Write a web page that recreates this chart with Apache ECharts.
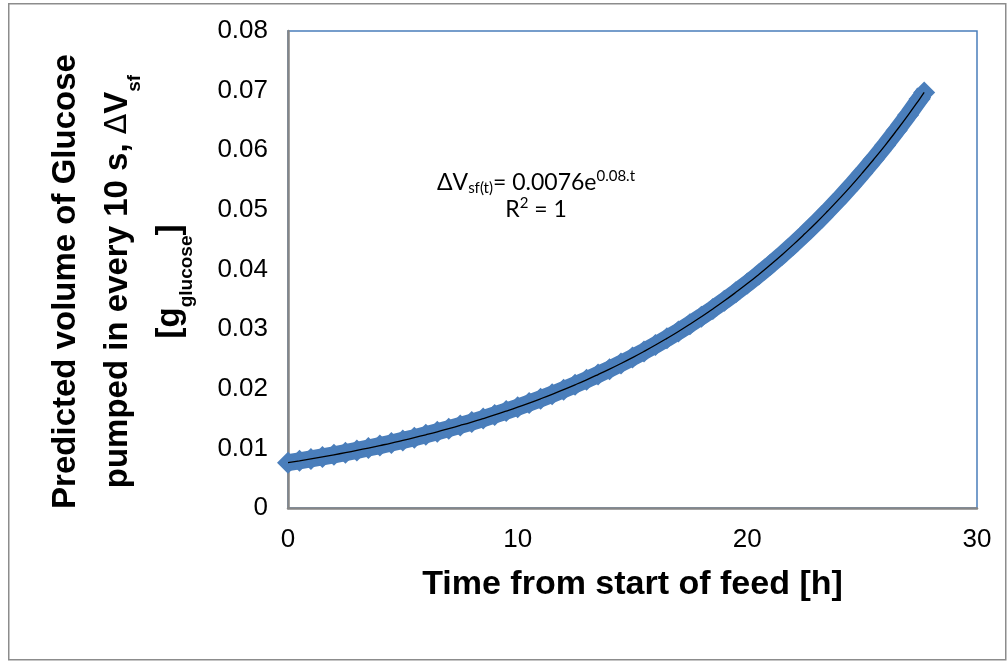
<!DOCTYPE html>
<html>
<head>
<meta charset="utf-8">
<script src="https://cdn.jsdelivr.net/npm/echarts@6/dist/echarts.min.js"></script>
<style>
  html, body { margin: 0; padding: 0; background: #fff; }
  #chart { width: 1008px; height: 662px; }
</style>
</head>
<body>
<div id="chart"></div>
<script>
// Feed time [h] and the predicted glucose volume per 10 s pump cycle [g]
const timeHours = [
  0, 0.5, 1, 1.5, 2, 2.5, 3, 3.5, 4, 4.5, 5, 5.5, 6, 6.5, 7, 7.5, 8, 8.5, 9, 9.5,
  10, 10.5, 11, 11.5, 12, 12.5, 13, 13.5, 14, 14.5, 15, 15.5, 16, 16.5, 17, 17.5,
  18, 18.5, 19, 19.5, 20, 20.5, 21, 21.5, 22, 22.5, 23, 23.5, 24, 24.5, 25, 25.5,
  26, 26.5, 27, 27.5, 27.7
];
const glucoseVolume = [
  0.00760, 0.00791, 0.00823, 0.00857, 0.00892, 0.00928, 0.00966, 0.01006, 0.01047, 0.01089,
  0.01134, 0.01180, 0.01228, 0.01278, 0.01331, 0.01385, 0.01441, 0.01500, 0.01561, 0.01625,
  0.01691, 0.01760, 0.01832, 0.01907, 0.01985, 0.02066, 0.02150, 0.02238, 0.02329, 0.02424,
  0.02523, 0.02626, 0.02733, 0.02845, 0.02961, 0.03082, 0.03208, 0.03339, 0.03475, 0.03617,
  0.03764, 0.03918, 0.04078, 0.04244, 0.04417, 0.04598, 0.04785, 0.04981, 0.05184, 0.05395,
  0.05616, 0.05845, 0.06083, 0.06332, 0.06590, 0.06859, 0.06970
];
const xTicks = [0, 10, 20, 30];
const yTicks = [0, 0.01, 0.02, 0.03, 0.04, 0.05, 0.06, 0.07, 0.08];

const points = timeHours.map((t, i) => [t, glucoseVolume[i]]);

const FONT = '"Liberation Sans", Arial, sans-serif';
const EQ_FONT = 'Lato, "Open Sans", sans-serif';
const AXIS_GREY = '#868686';
const MARK_BLUE = '#4A7EBB';

const chart = echarts.init(document.getElementById('chart'), null, { renderer: 'canvas' });

chart.setOption({
  backgroundColor: '#ffffff',
  animation: false,
  grid: {
    left: 288, right: 31, top: 31, bottom: 154,
    show: true,
    borderColor: MARK_BLUE,
    borderWidth: 1.5,
    backgroundColor: 'transparent'
  },
  xAxis: {
    type: 'value',
    min: xTicks[0],
    max: xTicks[xTicks.length - 1],
    interval: 10,
    axisLine: { show: true, onZero: false, lineStyle: { color: AXIS_GREY, width: 2.5 } },
    axisTick: { show: false },
    splitLine: { show: false },
    axisLabel: { fontFamily: FONT, fontSize: 26, color: '#000', margin: 19 },
    name: 'Time from start of feed [h]',
    nameLocation: 'middle',
    nameGap: 60,
    nameTextStyle: { fontFamily: FONT, fontSize: 34, fontWeight: 'bold', color: '#000' }
  },
  yAxis: {
    type: 'value',
    min: yTicks[0],
    max: yTicks[yTicks.length - 1],
    interval: 0.01,
    axisLine: { show: true, onZero: false, lineStyle: { color: AXIS_GREY, width: 2.5 } },
    axisTick: { show: false },
    splitLine: { show: false },
    axisLabel: {
      fontFamily: FONT, fontSize: 26, color: '#000', margin: 20,
      formatter: v => (Math.abs(v) < 1e-9 ? '0' : v.toFixed(2))
    },
    name: '{t|Predicted volume of Glucose}\n{t|pumped in every 10 s, }{d|Δ}{t|V}{s|sf}\n{t|[g}{s|glucose}{t|]}',
    nameLocation: 'middle',
    nameRotate: 90,
    nameGap: 92,
    nameTextStyle: {
      fontFamily: FONT, fontSize: 33, fontWeight: 'bold', color: '#000',
      align: 'center',
      padding: [0, 24, 0, 0],
      rich: {
        t: { fontFamily: FONT, fontSize: 33, fontWeight: 'bold', color: '#000', lineHeight: 52 },
        d: { fontFamily: '"DejaVu Sans", sans-serif', fontSize: 30, fontWeight: 'normal', color: '#000', lineHeight: 52 },
        s: { fontFamily: FONT, fontSize: 19, fontWeight: 'bold', color: '#000', lineHeight: 32, verticalAlign: 'bottom' }
      }
    }
  },
  graphic: [
    {
      type: 'rect',
      left: 8, top: 3,
      shape: { width: 997, height: 656 },
      style: { fill: 'transparent', stroke: '#8c8c8c', lineWidth: 1.5 },
      silent: true, z: -10
    },
    {
      type: 'text',
      x: 536, y: 196,
      style: {
        text: '{m|ΔV}{b|sf(t)}{m|= 0.0076e}{p|0.08.t}\n{m|R}{p|2}{m| = 1}',
        align: 'center',
        verticalAlign: 'middle',
        rich: {
          m: { fontFamily: EQ_FONT, fontSize: 23, color: '#2b2b2b', lineHeight: 27 },
          b: { fontFamily: EQ_FONT, fontSize: 15, color: '#2b2b2b', lineHeight: 14, verticalAlign: 'bottom' },
          p: { fontFamily: EQ_FONT, fontSize: 15, color: '#2b2b2b', lineHeight: 16, verticalAlign: 'top' }
        }
      },
      z: 20
    }
  ],
  series: [
    {
      name: 'Predicted feed',
      type: 'line',
      data: points,
      symbol: 'diamond',
      symbolSize: 22,
      showSymbol: true,
      itemStyle: { color: MARK_BLUE },
      lineStyle: { color: MARK_BLUE, width: 17 },
      z: 2
    },
    {
      name: 'Exponential trend',
      type: 'line',
      data: points,
      symbol: 'none',
      smooth: true,
      lineStyle: { color: '#000', width: 1.3 },
      z: 3
    }
  ]
});
</script>
</body>
</html>
